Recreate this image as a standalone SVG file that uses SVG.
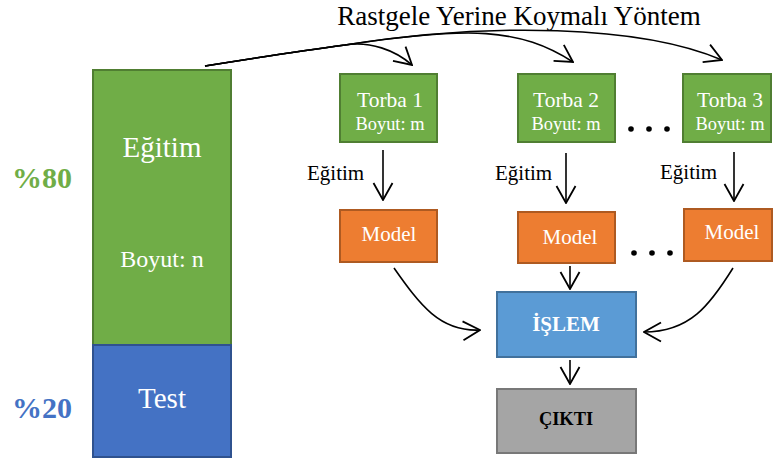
<svg xmlns="http://www.w3.org/2000/svg" width="773" height="461" viewBox="0 0 773 461">
  <style>
    text { font-family: "Liberation Serif", "Times New Roman", serif; }
    .w { fill: #ffffff; }
    .bag { fill: #70AD47; stroke: #507E32; stroke-width: 2; }
    .model { fill: #ED7D31; stroke: #AE5A21; stroke-width: 2; }
    .proc { fill: #5B9BD5; stroke: #41719C; stroke-width: 2; }
    .out { fill: #A5A5A5; stroke: #787878; stroke-width: 2; }
    .edge { fill: none; stroke: #000; stroke-width: 1.6; marker-end: url(#arrow); }
    .dot { fill: #000; }
  </style>
  <defs>
    <marker id="arrow" viewBox="0 0 20 22" refX="19" refY="11" markerWidth="20" markerHeight="22" markerUnits="userSpaceOnUse" orient="auto">
      <polyline points="2,1.5 19,11 2,20.5" fill="none" stroke="#000" stroke-width="1.8"/>
    </marker>
  </defs>

  <!-- title -->
  <text x="519" y="25" font-size="27" text-anchor="middle">Rastgele Yerine Koymalı Yöntem</text>

  <!-- dataset split -->
  <g id="train-set">
    <rect x="93" y="70" width="138" height="275" fill="#70AD47" stroke="#507E32" stroke-width="2"/>
    <text class="w" x="162" y="157" font-size="29" text-anchor="middle">Eğitim</text>
    <text class="w" x="162" y="267" font-size="24" text-anchor="middle">Boyut: n</text>
  </g>
  <g id="test-set">
    <rect x="93" y="345" width="138" height="112" fill="#4472C4" stroke="#2F528F" stroke-width="2"/>
    <text class="w" x="162" y="408" font-size="29" text-anchor="middle">Test</text>
  </g>
  <g id="pct-80">
    <text x="42" y="188" font-size="30" font-weight="bold" fill="#70AD47" text-anchor="middle">%80</text>
  </g>
  <g id="pct-20">
    <text x="42" y="418" font-size="30" font-weight="bold" fill="#4472C4" text-anchor="middle">%20</text>
  </g>

  <!-- bootstrap bags -->
  <g id="bag-1">
    <rect class="bag" x="340" y="74" width="97" height="68"/>
    <text class="w" x="390" y="107" font-size="21.5" text-anchor="middle">Torba 1</text>
    <text class="w" x="390" y="130" font-size="18.4" text-anchor="middle">Boyut: m</text>
  </g>
  <g id="bag-2">
    <rect class="bag" x="518" y="74" width="97" height="68"/>
    <text class="w" x="566" y="107" font-size="21.5" text-anchor="middle">Torba 2</text>
    <text class="w" x="566" y="130" font-size="18.4" text-anchor="middle">Boyut: m</text>
  </g>
  <g id="bag-3">
    <rect class="bag" x="683" y="74" width="88" height="68"/>
    <text class="w" x="730" y="107" font-size="21.5" text-anchor="middle">Torba 3</text>
    <text class="w" x="730" y="130" font-size="18.4" text-anchor="middle">Boyut: m</text>
  </g>
  <g id="bag-dots">
    <circle class="dot" cx="631" cy="129" r="2.8"/>
    <circle class="dot" cx="649" cy="129" r="2.8"/>
    <circle class="dot" cx="667" cy="129" r="2.8"/>
  </g>

  <!-- models -->
  <g id="model-1">
    <rect class="model" x="340" y="210" width="97" height="52"/>
    <text class="w" x="389" y="241" font-size="21" text-anchor="middle">Model</text>
  </g>
  <g id="model-2">
    <rect class="model" x="518" y="212" width="97" height="51"/>
    <text class="w" x="570" y="244" font-size="21" text-anchor="middle">Model</text>
  </g>
  <g id="model-3">
    <rect class="model" x="684" y="209" width="88" height="52"/>
    <text class="w" x="732" y="239" font-size="21" text-anchor="middle">Model</text>
  </g>
  <g id="model-dots">
    <circle class="dot" cx="634" cy="253" r="2.8"/>
    <circle class="dot" cx="652" cy="253" r="2.8"/>
    <circle class="dot" cx="670" cy="253" r="2.8"/>
  </g>

  <!-- aggregation and output -->
  <g id="islem">
    <rect class="proc" x="497" y="292" width="139" height="65"/>
    <text class="w" x="566" y="331" font-size="21" font-weight="bold" text-anchor="middle">İŞLEM</text>
  </g>
  <g id="cikti">
    <rect class="out" x="497" y="389" width="139" height="64"/>
    <text x="566" y="425" font-size="18.4" font-weight="bold" text-anchor="middle">ÇIKTI</text>
  </g>

  <!-- training labels -->
  <g id="train-labels" font-size="21">
    <text x="307" y="180">Eğitim</text>
    <text x="495" y="180">Eğitim</text>
    <text x="660" y="179">Eğitim</text>
  </g>

  <!-- connectors -->
  <g id="connectors">
    <path class="edge" d="M205,66 C255,58 300,51 345,45 C370,41 395,50 412,65"/>
    <path class="edge" d="M205,66 C255,58 300,51 345,45 C470,26 520,28 573,62"/>
    <path class="edge" d="M205,66 C255,58 300,51 345,45 C490,22 640,25 722,60"/>
    <line class="edge" x1="383" y1="150" x2="383" y2="200"/>
    <line class="edge" x1="566" y1="153" x2="566" y2="203"/>
    <line class="edge" x1="734" y1="152" x2="734" y2="201"/>
    <path class="edge" d="M394,268 C420,305 440,332 480,330"/>
    <path class="edge" d="M733,268 C710,305 690,332 644,332"/>
    <line class="edge" x1="570" y1="266" x2="570" y2="289"/>
    <line class="edge" x1="570" y1="360" x2="570" y2="384"/>
  </g>
</svg>
